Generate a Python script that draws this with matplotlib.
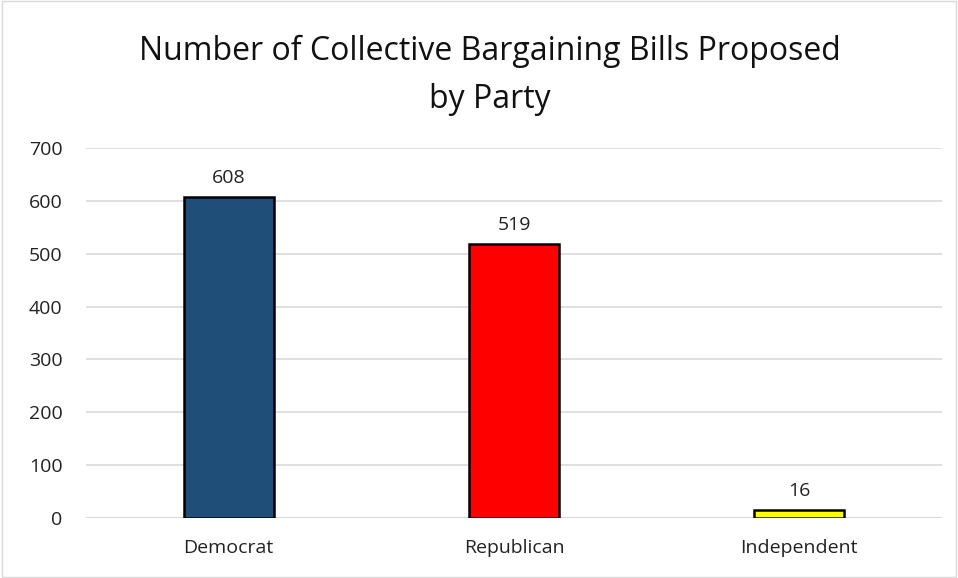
import matplotlib.pyplot as plt
from matplotlib.patches import Rectangle

parties = ["Democrat", "Republican", "Independent"]
bills = [608, 519, 16]
colors = ["#1f4e79", "#ff0000", "#ffff00"]
yticks = [0, 100, 200, 300, 400, 500, 600, 700]

plt.rcParams["font.family"] = ["Open Sans", "DejaVu Sans"]

fig = plt.figure(figsize=(9.58, 5.78), dpi=100)
ax = fig.add_axes([0.0898, 0.1038, 0.8935, 0.6402])

x = range(len(parties))
bars = ax.bar(x, bills, width=0.315, color=colors, edgecolor="black", linewidth=1.8, zorder=3)
for xi, v in zip(x, bills):
    ax.annotate(str(v), (xi, v), xytext=(0, 7), textcoords="offset points",
                ha="center", va="bottom", fontsize=14, color="#222222")

ax.set_xlim(-0.5, 2.5)
ax.set_ylim(0, 700)
ax.set_yticks(yticks)
ax.set_xticks(list(x))
ax.set_xticklabels(parties)
ax.tick_params(axis="both", length=0, labelsize=14, colors="#222222")
ax.tick_params(axis="x", pad=15)
ax.tick_params(axis="y", pad=17)
ax.grid(axis="y", color="#d9d9d9", linewidth=1.2, zorder=0)
ax.axhline(0, color="#d9d9d9", linewidth=1.5, zorder=2)
for s in ax.spines.values():
    s.set_visible(False)

fig.text(0.511, 0.870, "Number of Collective Bargaining Bills Proposed\nby Party",
         ha="center", va="center", fontsize=23, linespacing=1.62, color="#111111")

fig.patches.append(Rectangle((0.002, 0.002), 0.996, 0.996, transform=fig.transFigure,
                             fill=False, edgecolor="#d9d9d9", linewidth=1))

fig.savefig("out.png", dpi=100)
